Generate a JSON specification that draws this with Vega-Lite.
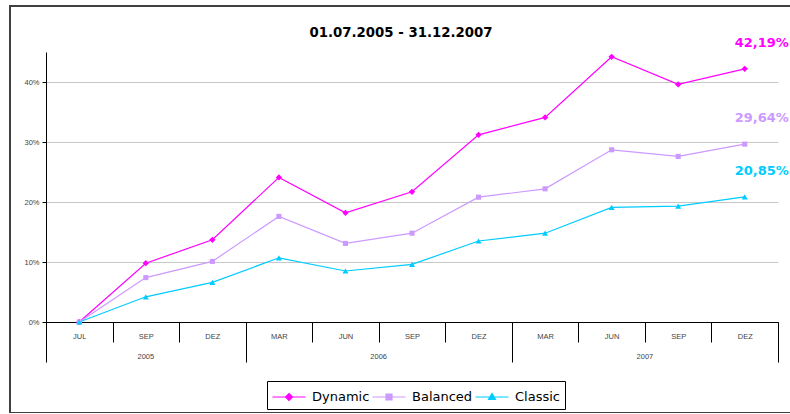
{
  "$schema": "https://vega.github.io/schema/vega-lite/v6.json",
  "autosize": "none",
  "padding": {"left": 10, "top": 6, "right": 0, "bottom": 0},
  "width": 782,
  "height": 407,
  "background": "white",
  "title": {"text": "01.07.2005 - 31.12.2007", "font": "DejaVu Sans", "fontSize": 13.3, "fontWeight": "bold", "color": "black", "anchor": "middle", "frame": "group", "offset": -44, "baseline": "alphabetic"},
  "config": {
    "view": {"stroke": "#404040", "strokeWidth": 2}
  },
  "data": {"values": [
    {"period": "2005-07", "series": "Dynamic", "value": 0},
    {"period": "2005-09", "series": "Dynamic", "value": 0.098},
    {"period": "2005-12", "series": "Dynamic", "value": 0.137},
    {"period": "2006-03", "series": "Dynamic", "value": 0.241},
    {"period": "2006-06", "series": "Dynamic", "value": 0.182},
    {"period": "2006-09", "series": "Dynamic", "value": 0.217},
    {"period": "2006-12", "series": "Dynamic", "value": 0.312},
    {"period": "2007-03", "series": "Dynamic", "value": 0.341},
    {"period": "2007-06", "series": "Dynamic", "value": 0.442},
    {"period": "2007-09", "series": "Dynamic", "value": 0.396},
    {"period": "2007-12", "series": "Dynamic", "value": 0.4219},
    {"period": "2005-07", "series": "Balanced", "value": 0},
    {"period": "2005-09", "series": "Balanced", "value": 0.074},
    {"period": "2005-12", "series": "Balanced", "value": 0.101},
    {"period": "2006-03", "series": "Balanced", "value": 0.176},
    {"period": "2006-06", "series": "Balanced", "value": 0.131},
    {"period": "2006-09", "series": "Balanced", "value": 0.148},
    {"period": "2006-12", "series": "Balanced", "value": 0.208},
    {"period": "2007-03", "series": "Balanced", "value": 0.222},
    {"period": "2007-06", "series": "Balanced", "value": 0.287},
    {"period": "2007-09", "series": "Balanced", "value": 0.276},
    {"period": "2007-12", "series": "Balanced", "value": 0.2964},
    {"period": "2005-07", "series": "Classic", "value": 0},
    {"period": "2005-09", "series": "Classic", "value": 0.042},
    {"period": "2005-12", "series": "Classic", "value": 0.066},
    {"period": "2006-03", "series": "Classic", "value": 0.107},
    {"period": "2006-06", "series": "Classic", "value": 0.085},
    {"period": "2006-09", "series": "Classic", "value": 0.096},
    {"period": "2006-12", "series": "Classic", "value": 0.135},
    {"period": "2007-03", "series": "Classic", "value": 0.148},
    {"period": "2007-06", "series": "Classic", "value": 0.191},
    {"period": "2007-09", "series": "Classic", "value": 0.193},
    {"period": "2007-12", "series": "Classic", "value": 0.2085}
  ]},
  "resolve": {"axis": {"x": "independent"}},
  "layer": [
    {
      "encoding": {
        "x": {"field": "period", "type": "nominal", "sort": null,
          "scale": {"type": "band", "range": [36, 768], "paddingInner": 0, "paddingOuter": 0},
          "axis": {"orient": "bottom", "offset": -91, "title": null, "labelAngle": 0, "tickBand": "extent", "tickSize": 20, "tickColor": "black", "domainColor": "black", "domainWidth": 1, "labelFont": "Liberation Sans", "labelFontSize": 7.5, "labelColor": "#444", "labelBaseline": "middle", "labelPadding": -6, "grid": false,
            "labelExpr": "indexof(''+datum.label,'-07')>0 ? 'JUL' : indexof(''+datum.label,'-09')>0 ? 'SEP' : indexof(''+datum.label,'-12')>0 ? 'DEZ' : indexof(''+datum.label,'-03')>0 ? 'MAR' : indexof(''+datum.label,'-06')>0 ? 'JUN' : ''"}},
        "y": {"field": "value", "type": "quantitative",
          "scale": {"domain": [0, 0.45], "range": [316, 46], "nice": false},
          "axis": {"orient": "left", "offset": -36, "title": null, "values": [0, 0.1, 0.2, 0.3, 0.4], "format": "~%", "tickSize": 4, "tickColor": "black", "domainColor": "black", "labelFont": "Liberation Sans", "labelFontSize": 7.5, "labelColor": "#444", "labelPadding": 3, "grid": true, "gridColor": "#c8c8c8", "gridWidth": 1}},
        "color": {"field": "series", "type": "nominal", "scale": {"domain": ["Dynamic", "Balanced", "Classic"], "range": ["#FF00FF", "#CC99FF", "#00CCFF"]}}
      },
      "layer": [
        {"mark": {"type": "line", "strokeWidth": 1.2}},
        {"transform": [{"filter": "datum.series == 'Dynamic'"}], "mark": {"type": "point", "shape": "diamond", "filled": true, "opacity": 1, "size": 40}},
        {"transform": [{"filter": "datum.series == 'Balanced'"}], "mark": {"type": "point", "shape": "square", "filled": true, "opacity": 1, "size": 26}},
        {"transform": [{"filter": "datum.series == 'Classic'"}], "mark": {"type": "point", "shape": "triangle-up", "filled": true, "opacity": 1, "size": 36}},
        {"transform": [{"filter": "datum.period == '2007-12'"}, {"calculate": "replace(format(datum.value, '.2%'), '.', ',')", "as": "label"}],
          "mark": {"type": "text", "font": "DejaVu Sans", "fontSize": 13, "fontWeight": "bold", "dx": 17, "dy": -26, "align": "center", "baseline": "middle"},
          "encoding": {"text": {"field": "label", "type": "nominal"}}},
        {"mark": {"type": "point", "filled": true, "opacity": 0, "size": 0},
          "encoding": {
            "shape": {"field": "series", "type": "nominal", "scale": {"domain": ["Dynamic", "Balanced", "Classic"], "range": ["M-1.65,0H1.65M0,-0.35L0.35,0L0,0.35L-0.35,0Z", "M-1.65,0H1.65M-0.3,-0.3H0.3V0.3H-0.3Z", "M-1.65,0H1.65M0,-0.35L0.35,0.25H-0.35Z"]},
              "legend": {"title": null, "orient": "none", "legendX": 257, "legendY": 375, "direction": "horizontal", "padding": 5, "strokeColor": "black", "fillColor": "white", "symbolSize": 400, "symbolOpacity": 1, "symbolStrokeWidth": 1.2, "symbolOffset": 6, "labelOffset": 12, "columnPadding": 0, "labelFont": "DejaVu Sans", "labelFontSize": 13, "labelColor": "black",
                "encode": {"symbols": {"update": {"stroke": {"scale": "color", "field": "value"}, "opacity": {"value": 1}}}}}}
          }}
      ]
    },
    {
      "mark": {"type": "rule", "opacity": 0},
      "encoding": {
        "x": {"field": "period", "type": "nominal", "sort": null,
          "axis": {"orient": "bottom", "offset": -91, "title": null, "values": ["2005-12", "2006-12", "2007-12"], "tickBand": "center", "tickOffset": 33.27, "labels": false, "domain": false, "grid": false, "tickSize": 40, "tickColor": "black"}}
      }
    },
    {
      "mark": {"type": "rule", "opacity": 0},
      "encoding": {
        "x": {"field": "period", "type": "nominal", "sort": null,
          "axis": {"orient": "bottom", "offset": -91, "title": null, "values": ["2005-07"], "tickBand": "center", "tickOffset": -33.27, "labels": false, "domain": false, "grid": false, "tickSize": 40, "tickColor": "black"}}
      }
    },
    {
      "mark": {"type": "rule", "opacity": 0},
      "encoding": {
        "x": {"field": "period", "type": "nominal", "sort": null,
          "axis": {"orient": "bottom", "offset": -91, "title": null, "values": ["2005-09", "2006-09", "2007-09"], "ticks": false, "tickSize": 0, "domain": false, "grid": false, "labelAngle": 0, "labelPadding": 34, "labelBaseline": "middle", "labelFont": "Liberation Sans", "labelFontSize": 7.5, "labelColor": "#444",
            "labelOffset": {"condition": {"test": "datum.value == '2005-09'", "value": 0}, "value": -33.3},
            "labelExpr": "substring(''+datum.label,0,4)"}}
      }
    }
  ]
}
